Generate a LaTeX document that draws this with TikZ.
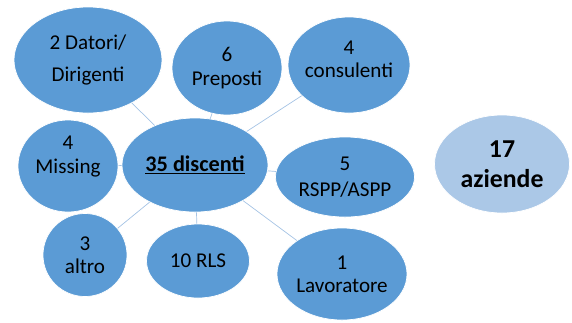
\documentclass[tikz,border=0pt]{standalone}
\usepackage{fontspec}
\setmainfont{Carlito}
\definecolor{medblue}{RGB}{91, 155, 213}
\definecolor{paleblue}{RGB}{171, 200, 231}
\definecolor{linkblue}{RGB}{165, 195, 228}
\usetikzlibrary{shapes.geometric}
\tikzset{
	bubble/.style={ellipse, draw=white, fill=medblue, line width=0.6pt, inner sep=0pt},
	palebubble/.style={ellipse, draw=white, fill=paleblue, line width=0.6pt, inner sep=0pt},
	lbl/.style={align=center, inner sep=0pt, font=\fontsize{18}{20}\selectfont},
	hublbl/.style={align=center, inner sep=0pt, font=\fontsize{19}{21}\selectfont\bfseries},
	biglbl/.style={align=center, inner sep=0pt, font=\fontsize{22}{26}\selectfont\bfseries},
	link/.style={draw=linkblue, line width=0.6pt},
}

\begin{document}
\begin{tikzpicture}[x=0.03cm, y=-0.03cm]
		\useasboundingbox (0,0) rectangle (572,322);
		\node[bubble, minimum width=4.38cm, minimum height=2.82cm, label={[hublbl]center:\underline{35 discenti}}] (c) at (195,165) {};
		\node[bubble, minimum width=4.44cm, minimum height=3.18cm, label={[lbl]center:{2 Datori/\\[8pt]Dirigenti}}] (dat) at (88,60) {};
		\node[bubble, minimum width=3.3cm, minimum height=2.82cm, label={[lbl]center:{6\\Preposti}}] (prep) at (227,68) {};
		\node[bubble, minimum width=3.66cm, minimum height=2.88cm, label={[lbl, yshift=5pt]center:{4\\consulenti}}] (cons) at (349,65) {};
		\node[bubble, minimum width=3.0cm, minimum height=2.76cm, label={[lbl, yshift=8pt]center:{4\\Missing}}] (miss) at (68,166) {};
		\node[bubble, minimum width=4.17cm, minimum height=2.4cm, label={[lbl]center:{5\\[2pt]RSPP/ASPP}}] (rspp) at (345,177) {};
		\node[bubble, minimum width=2.52cm, minimum height=2.49cm, label={[lbl]center:{3\\altro}}] (alt) at (85,255) {};
		\node[bubble, minimum width=3.09cm, minimum height=2.22cm, label={[lbl]center:10 RLS}] (rls) at (198,261) {};
		\node[bubble, minimum width=3.9cm, minimum height=2.76cm, label={[lbl]center:{1\\Lavoratore}}] (lav) at (342,274) {};
		\node[palebubble, minimum width=4.05cm, minimum height=2.94cm, label={[biglbl]center:{17\\aziende}}] (az) at (502,164) {};
		\foreach \x in {dat,prep,cons,miss,rspp,alt,rls,lav}{\draw[link] (c) -- (\x);}
	\end{tikzpicture}
\end{document}
